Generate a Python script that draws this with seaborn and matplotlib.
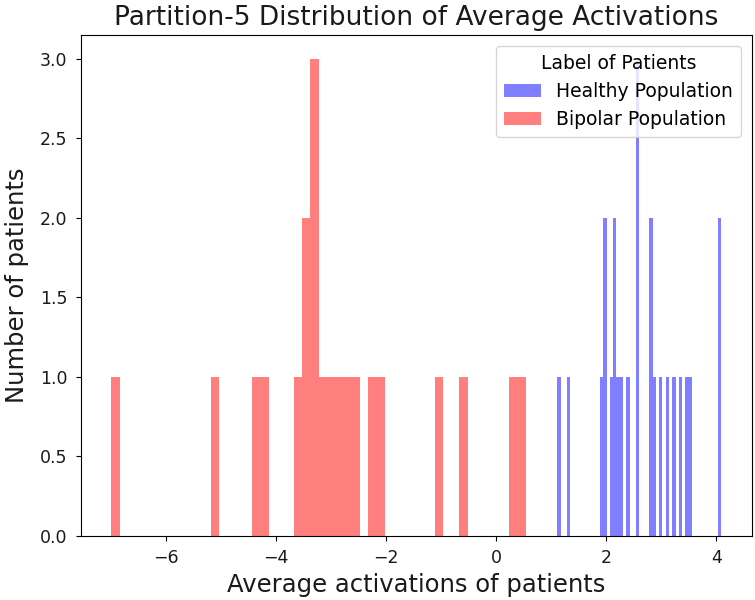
import numpy as np
import pandas as pd
import matplotlib
matplotlib.use("Agg")
import matplotlib.pyplot as plt
import seaborn as sns

# Average activation per patient, partition 5
healthy = [1.113, 1.32, 1.92, 1.97, 1.99, 2.09, 2.14, 2.17, 2.21, 2.27,
           2.39, 2.56, 2.57, 2.59, 2.80, 2.82, 2.87, 2.99, 3.11, 3.23,
           3.35, 3.47, 3.52, 4.06, 4.095]
bipolar = [-6.99, -5.11, -4.37, -4.21, -3.60, -3.48, -3.41, -3.35, -3.30,
           -3.26, -3.15, -3.00, -2.85, -2.70, -2.55, -2.25, -2.10, -1.04,
           -0.59, 0.31, 0.54]

labels = ["Healthy Population", "Bipolar Population"]
colors = ["blue", "red"]
n_bins = 50

fig = plt.figure(figsize=(7.55, 6.0), dpi=100)
ax = fig.add_axes([0.107, 0.107, 0.889, 0.835])

for values, label, color in zip([healthy, bipolar], labels, colors):
    sns.histplot(x=np.asarray(values), bins=n_bins, color=color, alpha=0.5,
                 linewidth=0, label=label, ax=ax)

ax.set_title("Partition-5 Distribution of Average Activations", fontsize=19,
             color="#1a1a1a", pad=7)
ax.set_xlabel("Average activations of patients", fontsize=17.5,
              color="#1a1a1a", labelpad=4)
ax.set_ylabel("Number of patients", fontsize=17.5, color="#1a1a1a",
              labelpad=8)
ax.tick_params(labelsize=12.5, pad=6, labelcolor="#1a1a1a")
ax.legend(title="Label of Patients", loc="upper right", fontsize=13.5,
          title_fontsize=13.5, borderaxespad=0.6)

fig.savefig("out.png", dpi=100)
